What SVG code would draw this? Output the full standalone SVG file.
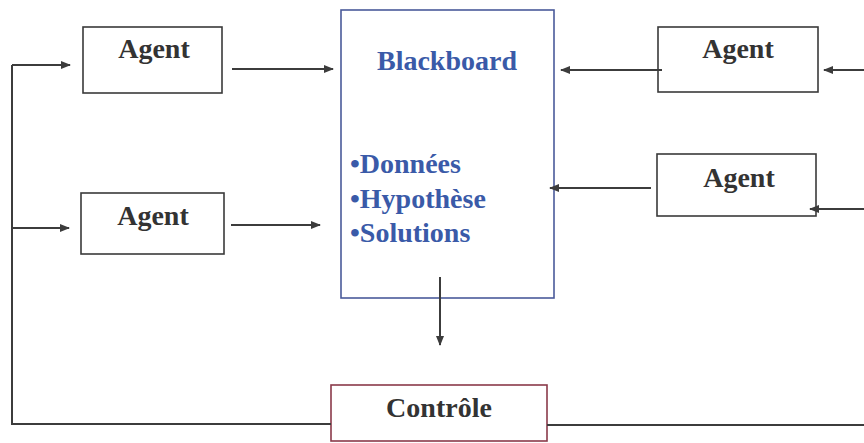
<svg xmlns="http://www.w3.org/2000/svg" width="864" height="443" viewBox="0 0 864 443">
<style>
.box{fill:#fff;stroke:#3a3a3a;stroke-width:1.6}
.lbl{font-weight:bold;font-size:28px;fill:#333;text-anchor:middle}
.blue{font-weight:bold;font-size:28px;fill:#3a5aa8}
.ln{stroke:#3c3c3c;stroke-width:2;fill:none}
</style>
<defs>
<marker id="ah" viewBox="0 0 10 10" refX="9" refY="5" markerWidth="5" markerHeight="5" orient="auto-start-reverse" markerUnits="strokeWidth">
<path d="M0,1 L10,5 L0,9 z" fill="#3c3c3c"/>
</marker>
</defs>
<rect width="864" height="443" fill="#fff"/>
<g font-family="'Liberation Serif', 'Times New Roman', serif">
<g id="agent1"><rect class="box" x="83" y="27" width="139" height="66"/><text class="lbl" x="154" y="58">Agent</text></g>
<g id="agent2"><rect class="box" x="81" y="193" width="143" height="61"/><text class="lbl" x="153" y="225">Agent</text></g>
<g id="agent3"><rect class="box" x="658" y="27" width="160" height="65"/><text class="lbl" x="738" y="58">Agent</text></g>
<g id="agent4"><rect class="box" x="657" y="154" width="159" height="62"/><text class="lbl" x="739" y="187">Agent</text></g>
<g id="blackboard"><rect x="341" y="10" width="213" height="288" fill="#fff" stroke="#4a5a9a" stroke-width="1.6"/>
<text class="blue" x="447" y="70" text-anchor="middle">Blackboard</text>
<text class="blue" x="350" y="173">•Données</text>
<text class="blue" x="350" y="208">•Hypothèse</text>
<text class="blue" x="350" y="242">•Solutions</text></g>
<g id="controle"><rect x="331" y="385" width="216" height="56" fill="#fff" stroke="#8a3a4a" stroke-width="1.6"/><text class="lbl" x="439" y="417">Contrôle</text></g>
</g>
<g id="connectors">
<polyline class="ln" points="331,424 12,424 12,65"/>
<line class="ln" x1="12" y1="65" x2="70" y2="65" marker-end="url(#ah)"/>
<line class="ln" x1="12" y1="228" x2="69" y2="228" marker-end="url(#ah)"/>
<line class="ln" x1="232" y1="69" x2="333" y2="69" marker-end="url(#ah)"/>
<line class="ln" x1="231" y1="225" x2="320" y2="225" marker-end="url(#ah)"/>
<line class="ln" x1="662" y1="70" x2="561" y2="70" marker-end="url(#ah)"/>
<line class="ln" x1="864" y1="70" x2="824" y2="70" marker-end="url(#ah)"/>
<line class="ln" x1="651" y1="188" x2="550" y2="188" marker-end="url(#ah)"/>
<line class="ln" x1="864" y1="209" x2="810" y2="209" marker-end="url(#ah)"/>
<line class="ln" x1="440" y1="277" x2="440" y2="345" marker-end="url(#ah)"/>
<line class="ln" x1="547" y1="425" x2="864" y2="425"/>
</g>
</svg>
